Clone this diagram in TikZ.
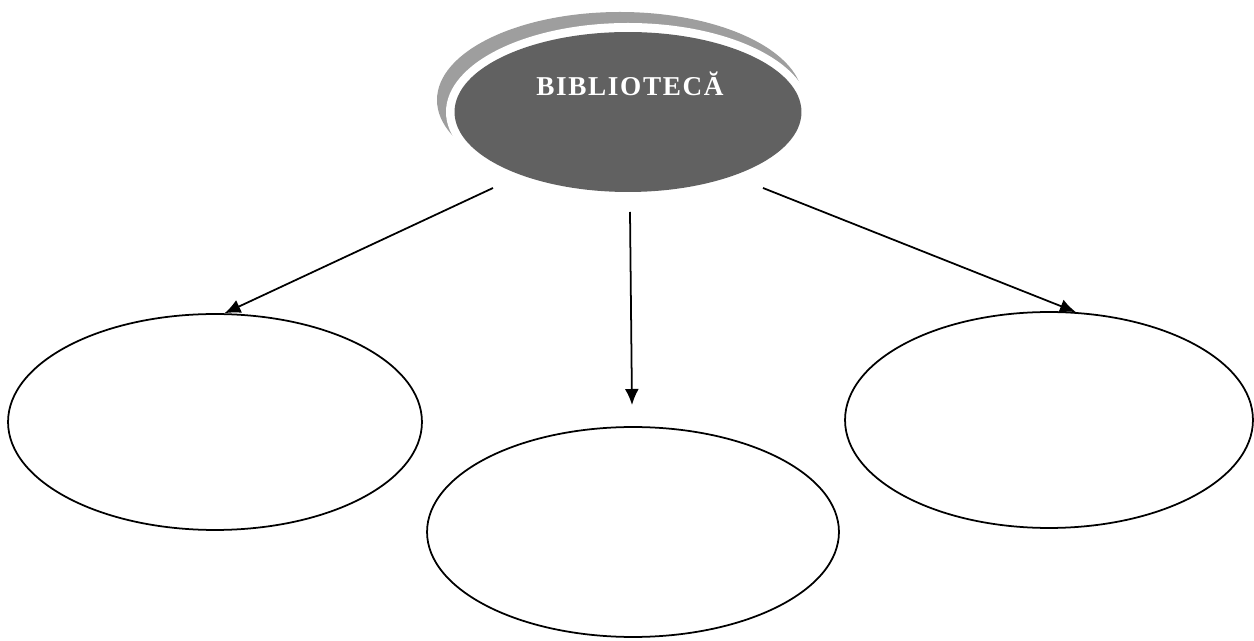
\documentclass[tikz,border=0pt]{standalone}
\usepackage{fontspec}
\setmainfont{Liberation Serif}
\usetikzlibrary{arrows.meta,positioning,shapes.geometric}

\begin{document}
\begin{tikzpicture}[x=0.02cm, y=-0.02cm, thick]

		\tikzstyle{bubble}=[ellipse, draw=black, line width=1pt, fill=white, inner sep=0pt]
		\tikzstyle{link}=[-{Latex[length=3.2mm, width=2.8mm]}, line width=1pt, black]

		\useasboundingbox (0,0) rectangle (1254,641);

		% Title bubble with its shaded rim
		\fill[black!38] (620,100) ellipse [x radius=183, y radius=88];
		\fill[white] (628,112) ellipse [x radius=182, y radius=89];
		\node[ellipse, fill=black!62, inner sep=0pt, minimum width=6.94cm, minimum height=3.2cm] (bib) at (628,112) {};
		\node[anchor=base, inner sep=0pt, text=white, font=\fontsize{15.5}{18}\selectfont\bfseries\addfontfeature{LetterSpace=6}] (title) at (630,96) {BIBLIOTECĂ};

		% Empty bubbles
		\node[bubble, minimum width=8.28cm, minimum height=4.32cm] (left) at (215,422) {};
		\node[bubble, minimum width=8.24cm, minimum height=4.2cm] (mid) at (633,532) {};
		\node[bubble, minimum width=8.16cm, minimum height=4.32cm] (right) at (1049,420) {};

		% Links
		\coordinate (sl) at (493,188);
		\coordinate (sm) at (630,212);
		\coordinate (em) at (632,405);
		\coordinate (sr) at (763,188);

		\draw[link] (sl) -- (left.85);
		\draw[link] (sm) -- (em);
		\draw[link] (sr) -- (right.76);

\end{tikzpicture}
\end{document}
